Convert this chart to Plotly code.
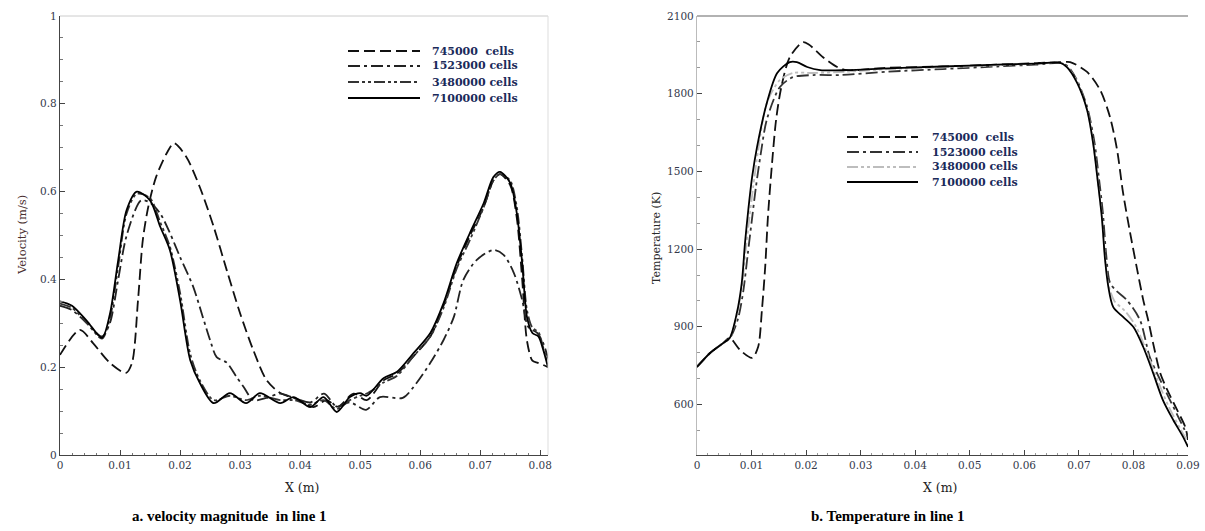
import plotly.graph_objects as go

W, H = 1205, 531

# ---------------- data: velocity (left) ----------------
series_names = ["745000  cells", "1523000 cells", "3480000 cells", "7100000 cells"]

v745_x = [0, 0.0033, 0.0055, 0.0083, 0.011, 0.012, 0.013, 0.0138, 0.0147, 0.016, 0.0178, 0.019, 0.021, 0.0233,
          0.0256, 0.0278, 0.03, 0.0322, 0.0344, 0.0367, 0.04, 0.0422, 0.0444, 0.0463, 0.0489, 0.0511, 0.0539,
          0.0561, 0.0589, 0.0617, 0.0639, 0.0661, 0.0683, 0.0706, 0.0722, 0.0733, 0.075, 0.0761, 0.077, 0.0778,
          0.0787, 0.0796, 0.0805, 0.0813]
v745_y = [0.228, 0.285, 0.255, 0.21, 0.187, 0.21, 0.353, 0.49, 0.565, 0.633, 0.688, 0.71, 0.68, 0.61, 0.52, 0.42,
          0.323, 0.239, 0.171, 0.141, 0.125, 0.109, 0.125, 0.11, 0.14, 0.125, 0.17, 0.185, 0.225, 0.27, 0.34, 0.43,
          0.5, 0.565, 0.625, 0.64, 0.615, 0.54, 0.40, 0.26, 0.215, 0.21, 0.205, 0.2]

v1523_x = [0, 0.002, 0.0045, 0.007, 0.0083, 0.0097, 0.0111, 0.0135, 0.015, 0.0167, 0.0183, 0.02, 0.0222, 0.0238,
           0.025, 0.0261, 0.0278, 0.0294, 0.0306, 0.0322, 0.0344, 0.0367, 0.039, 0.0417, 0.044, 0.0461, 0.0483,
           0.051, 0.0533, 0.0571, 0.0594, 0.0617, 0.0639, 0.0656, 0.0672, 0.0694, 0.0722, 0.0739, 0.0756, 0.077,
           0.078, 0.0795, 0.0805, 0.0813]
v1523_y = [0.34, 0.33, 0.30, 0.27, 0.30, 0.40, 0.50, 0.58, 0.575, 0.55, 0.506, 0.451, 0.383, 0.314, 0.262, 0.223,
           0.21, 0.178, 0.155, 0.125, 0.13, 0.14, 0.13, 0.12, 0.14, 0.11, 0.12, 0.103, 0.132, 0.13, 0.164, 0.21,
           0.262, 0.314, 0.399, 0.444, 0.467, 0.456, 0.415, 0.353, 0.292, 0.278, 0.255, 0.22]

v_fine_x = [0, 0.002, 0.0045, 0.007, 0.0083, 0.0097, 0.0111, 0.0128, 0.015, 0.0167, 0.0183, 0.02, 0.0217, 0.0233,
            0.0256, 0.0283, 0.031, 0.0333, 0.0367, 0.0389, 0.0417, 0.0439, 0.0461, 0.0483, 0.05, 0.0511, 0.0539,
            0.0561, 0.0589, 0.0617, 0.0639, 0.0661, 0.0683, 0.0706, 0.0722, 0.0733, 0.075, 0.0761, 0.077, 0.0778,
            0.0787, 0.0797, 0.0805, 0.0813]
v3480_y = [0.345, 0.335, 0.30, 0.265, 0.31, 0.43, 0.55, 0.595, 0.585, 0.53, 0.475, 0.37, 0.23, 0.17, 0.125, 0.135,
           0.125, 0.135, 0.125, 0.125, 0.115, 0.125, 0.105, 0.125, 0.135, 0.14, 0.165, 0.18, 0.225, 0.27, 0.335,
           0.425, 0.49, 0.565, 0.625, 0.64, 0.625, 0.565, 0.45, 0.33, 0.29, 0.28, 0.245, 0.205]
v7100_y = [0.35, 0.34, 0.305, 0.267, 0.32, 0.444, 0.558, 0.60, 0.58, 0.52, 0.467, 0.353, 0.216, 0.164, 0.118, 0.141,
           0.118, 0.141, 0.118, 0.132, 0.109, 0.132, 0.098, 0.132, 0.141, 0.135, 0.175, 0.189, 0.232, 0.278, 0.346,
           0.437, 0.506, 0.574, 0.633, 0.645, 0.62, 0.551, 0.437, 0.314, 0.278, 0.27, 0.24, 0.2]

# ---------------- data: temperature (right) ----------------
t745_x = [0, 0.0024, 0.0048, 0.006, 0.0079, 0.0101, 0.0112, 0.0119, 0.0125, 0.013, 0.0137, 0.0145, 0.0155, 0.017,
          0.0194, 0.0205, 0.0231, 0.0257, 0.0275, 0.035, 0.045, 0.055, 0.062, 0.0671, 0.0684, 0.0715, 0.0739,
          0.0757, 0.077, 0.0781, 0.0794, 0.0807, 0.0818, 0.0827, 0.0836, 0.0849, 0.0862, 0.088, 0.0895, 0.09]
t745_y = [745, 799, 837, 857, 810, 780, 822, 965, 1131, 1324, 1517, 1700, 1830, 1941, 1999, 1990, 1941, 1903, 1891,
          1900, 1905, 1912, 1918, 1922, 1922, 1884, 1814, 1710, 1583, 1417, 1262, 1119, 1003, 926, 837, 722, 656,
          579, 513, 463]

t1523_x = [0, 0.0024, 0.0048, 0.006, 0.0075, 0.0085, 0.0093, 0.0101, 0.0108, 0.0117, 0.0128, 0.0152, 0.0176,
           0.0213, 0.0262, 0.035, 0.045, 0.055, 0.062, 0.0668, 0.068, 0.0697, 0.0715, 0.0728, 0.0737, 0.0744,
           0.075, 0.0757, 0.0768, 0.0788, 0.0812, 0.083, 0.0849, 0.0867, 0.0885, 0.09]
t1523_y = [745, 799, 837, 855, 930, 1040, 1180, 1320, 1440, 1570, 1700, 1826, 1864, 1872, 1872, 1885, 1895, 1905,
           1912, 1918, 1905, 1850, 1750, 1620, 1470, 1340, 1180, 1070, 1040, 1003, 926, 783, 695, 617, 540, 475]

t3480_x = [0, 0.0024, 0.0048, 0.006, 0.0073, 0.0082, 0.0089, 0.0096, 0.0103, 0.0112, 0.0128, 0.0152, 0.0176,
           0.0213, 0.0275, 0.035, 0.045, 0.055, 0.062, 0.0667, 0.068, 0.0697, 0.0715, 0.0726, 0.0735, 0.0742,
           0.0748, 0.0754, 0.0765, 0.0785, 0.0805, 0.0825, 0.0845, 0.0865, 0.0885, 0.09]
t3480_y = [745, 799, 837, 857, 945, 1050, 1190, 1320, 1440, 1580, 1764, 1853, 1880, 1880, 1885, 1895, 1902, 1910,
           1916, 1920, 1900, 1845, 1740, 1615, 1460, 1330, 1170, 1065, 1000, 960, 900, 800, 690, 590, 510, 455]

t7100_x = [0, 0.0024, 0.0048, 0.006, 0.0073, 0.0082, 0.0088, 0.0094, 0.0101, 0.011, 0.0128, 0.0147, 0.017, 0.0183,
           0.0202, 0.0226, 0.0275, 0.035, 0.045, 0.055, 0.062, 0.0665, 0.0678, 0.0697, 0.0715, 0.0726, 0.0735,
           0.0742, 0.0748, 0.0754, 0.0763, 0.0781, 0.08, 0.0818, 0.0836, 0.0854, 0.0873, 0.0891, 0.09]
t7100_y = [745, 799, 837, 857, 953, 1069, 1224, 1351, 1478, 1594, 1764, 1880, 1922, 1922, 1903, 1891, 1891, 1898,
           1905, 1912, 1916, 1920, 1903, 1841, 1737, 1610, 1455, 1324, 1158, 1054, 976, 938, 899, 822, 722, 617,
           540, 475, 436]

vel_ticks = [0, 0.2, 0.4, 0.6, 0.8, 1]
vel_ticklabels = ["0", "0.2", "0.4", "0.6", "0.8", "1"]
temp_ticks = [600, 900, 1200, 1500, 1800, 2100]
x_left_ticks = [0, 0.01, 0.02, 0.03, 0.04, 0.05, 0.06, 0.07, 0.08]
x_right_ticks = [0, 0.01, 0.02, 0.03, 0.04, 0.05, 0.06, 0.07, 0.08, 0.09]

# ---------------- styles ----------------
dashes = ["11px,5px", "12px,4px,3px,4px", "11px,3px,3px,3px,3px,3px", "solid"]
left_colors = ["#111111", "#222222", "#333333", "#000000"]
right_colors = ["#111111", "#333333", "#bdbdbd", "#000000"]

fig = go.Figure()

left_data = [(v745_x, v745_y), (v1523_x, v1523_y), (v_fine_x, v3480_y), (v_fine_x, v7100_y)]
right_data = [(t745_x, t745_y), (t1523_x, t1523_y), (t3480_x, t3480_y), (t7100_x, t7100_y)]

for i, (xs, ys) in enumerate(left_data):
    fig.add_trace(go.Scatter(x=xs, y=ys, mode="lines", name=series_names[i], showlegend=False,
                             line=dict(color=left_colors[i], width=1.8, dash=dashes[i], shape="spline", smoothing=0.8),
                             xaxis="x", yaxis="y"))
for i, (xs, ys) in enumerate(right_data):
    fig.add_trace(go.Scatter(x=xs, y=ys, mode="lines", name=series_names[i], showlegend=False,
                             line=dict(color=right_colors[i], width=1.8, dash=dashes[i], shape="spline", smoothing=0.8),
                             xaxis="x2", yaxis="y2"))

def px(x):
    return x / W

def py(y):
    return 1 - y / H

SERIF = "DejaVu Serif"
tickfont = dict(family=SERIF, size=10.5, color="#33384a")
axis_common = dict(showgrid=False, zeroline=False, showline=True, linecolor="#444444", linewidth=1.2,
                   ticks="inside", ticklen=5, tickcolor="#444444", tickfont=tickfont, fixedrange=True,
                   automargin=False)

fig.update_layout(
    template="none",
    width=W, height=H, margin=dict(l=0, r=0, t=0, b=0, pad=0),
    paper_bgcolor="white", plot_bgcolor="white", showlegend=False,
    xaxis=dict(domain=[px(60), px(548)], range=[0, 0.0813], tickvals=x_left_ticks,
               ticktext=["0", "0.01", "0.02", "0.03", "0.04", "0.05", "0.06", "0.07", "0.08"],
               minor=dict(dtick=0.002, ticks="inside", ticklen=2, tickcolor="#777777"),
               anchor="y", **axis_common),
    yaxis=dict(domain=[py(455), py(16)], range=[0, 1], tickvals=vel_ticks, ticktext=vel_ticklabels,
               minor=dict(dtick=0.05, ticks="inside", ticklen=3, tickcolor="#777777"),
               anchor="x", **axis_common),
    xaxis2=dict(domain=[px(697), px(1188)], range=[0, 0.09], tickvals=x_right_ticks,
                ticktext=["0", "0.01", "0.02", "0.03", "0.04", "0.05", "0.06", "0.07", "0.08", "0.09"],
                minor=dict(dtick=0.002, ticks="inside", ticklen=2, tickcolor="#999999"),
                anchor="y2", **axis_common),
    yaxis2=dict(domain=[py(455), py(16)], range=[405, 2100], tickvals=temp_ticks,
                minor=dict(dtick=100, ticks="inside", ticklen=3, tickcolor="#999999"),
                anchor="x2", **{**axis_common, "linecolor": "#bbbbbb"}),
)

shapes = []
# frame top/right lines
shapes.append(dict(type="line", xref="x domain", yref="y domain", x0=0, x1=1, y0=1, y1=1,
                   line=dict(color="#cccccc", width=1)))
shapes.append(dict(type="line", xref="x domain", yref="y domain", x0=1, x1=1, y0=0, y1=1,
                   line=dict(color="#dddddd", width=1)))
shapes.append(dict(type="line", xref="x2 domain", yref="y2 domain", x0=0, x1=1, y0=1, y1=1,
                   line=dict(color="#999999", width=1.5)))

annotations = []
legend_font = dict(family=SERIF, size=11, color="#1a2a5a")
# left legend
left_rows = [51, 66, 82, 98]
for i, r in enumerate(left_rows):
    shapes.append(dict(type="line", xref="paper", yref="paper", x0=px(348), x1=px(420), y0=py(r), y1=py(r),
                       line=dict(color=left_colors[i], width=1.9, dash=dashes[i])))
    annotations.append(dict(xref="paper", yref="paper", x=px(430), y=py(r), xanchor="left", yanchor="middle",
                            text="<b>%s</b>" % series_names[i], showarrow=False, font=legend_font))
# right legend
right_rows = [137, 152, 167, 182]
for i, r in enumerate(right_rows):
    shapes.append(dict(type="line", xref="paper", yref="paper", x0=px(847), x1=px(918), y0=py(r), y1=py(r),
                       line=dict(color=right_colors[i], width=1.9, dash=dashes[i])))
    annotations.append(dict(xref="paper", yref="paper", x=px(930), y=py(r), xanchor="left", yanchor="middle",
                            text="<b>%s</b>" % series_names[i], showarrow=False, font=legend_font))

title_font = dict(family=SERIF, size=11.5, color="#4a3030")
annotations += [
    dict(xref="paper", yref="paper", x=px(22), y=py(235), xanchor="center", yanchor="middle",
         text="Velocity (m/s)", textangle=-90, showarrow=False, font=title_font),
    dict(xref="paper", yref="paper", x=px(656), y=py(238), xanchor="center", yanchor="middle",
         text="Temperature (K)", textangle=-90, showarrow=False, font=dict(family=SERIF, size=11, color="#2a2a2a")),
    dict(xref="paper", yref="paper", x=px(302), y=py(487), xanchor="center", yanchor="middle",
         text="X (m)", showarrow=False, font=dict(family=SERIF, size=12.5, color="#222222")),
    dict(xref="paper", yref="paper", x=px(940), y=py(487), xanchor="center", yanchor="middle",
         text="X (m)", showarrow=False, font=dict(family=SERIF, size=12.5, color="#222222")),
    dict(xref="paper", yref="paper", x=px(229), y=py(516), xanchor="center", yanchor="middle",
         text="<b>a. velocity magnitude  in line 1</b>",
         showarrow=False, font=dict(family="Liberation Serif", size=15, color="#000000")),
    dict(xref="paper", yref="paper", x=px(888), y=py(516), xanchor="center", yanchor="middle",
         text="<b>b. Temperature in line 1</b>",
         showarrow=False, font=dict(family="Liberation Serif", size=15, color="#000000")),
]

fig.update_layout(shapes=shapes, annotations=annotations)
fig.write_html("out.html", config={"displayModeBar": False},
               post_script="document.body.style.margin='0';document.body.style.overflow='hidden';")
